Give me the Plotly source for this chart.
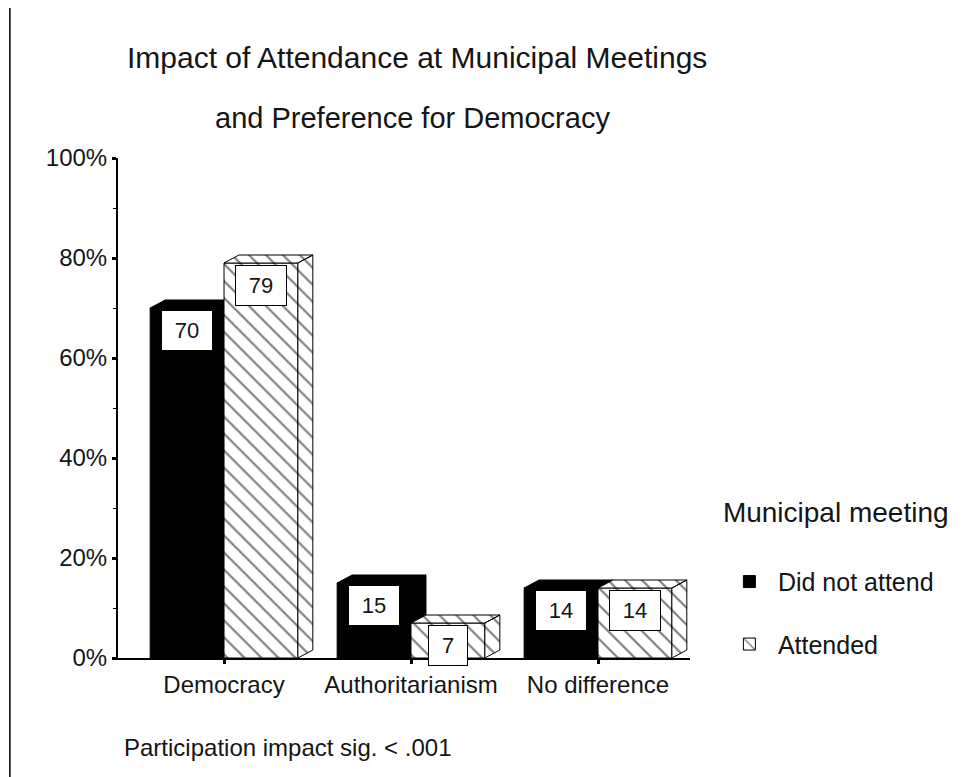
import plotly.graph_objects as go

categories = ["Democracy", "Authoritarianism", "No difference"]
did_not_attend = [70, 15, 14]
attended = [79, 7, 14]
series_names = ["Did not attend", "Attended"]
y_tickvals = [0, 20, 40, 60, 80, 100]
y_ticktext = ["0%", "20%", "40%", "60%", "80%", "100%"]

FONT = "Liberation Sans, Arial, sans-serif"
INK = "#151515"
BAR_W = 0.395          # width of one bar, in category units
DX, DY = 0.08, 1.6     # fake 3d depth (x units, percent)
XR = [-0.567, 2.492]
HATCH = dict(shape="\\", fgcolor="black", bgcolor="white", size=12, solidity=0.18)


def faces(vals, shift):
    # top and right side of each bar, as closed polygons split by None
    xs, ys = [], []
    for i, v in enumerate(vals):
        x0 = i + shift
        x1 = x0 + BAR_W
        xs += [x0, x1, x1 + DX, x0 + DX, x0, None]
        ys += [v, v, v + DY, v + DY, v, None]
        xs += [x1, x1 + DX, x1 + DX, x1, x1, None]
        ys += [0, DY, v + DY, v, 0, None]
    return xs, ys


xpos = list(range(len(categories)))
fig = go.Figure()

# did not attend (solid black), on the back subplot
fx, fy = faces(did_not_attend, -BAR_W)
fig.add_trace(go.Scatter(x=fx, y=fy, fill="toself", fillcolor="black", mode="lines",
                         line=dict(color="black", width=1), showlegend=False, hoverinfo="skip"))
fig.add_trace(go.Bar(x=xpos, y=did_not_attend, width=BAR_W, offset=-BAR_W, name=series_names[0],
                     legendgroup="a", marker=dict(color="black", line=dict(color="black", width=1))))

# attended (hatched), on the overlaying subplot so it sits in front
fx, fy = faces(attended, 0)
fig.add_trace(go.Bar(x=xpos, y=attended, width=BAR_W, offset=0, name=series_names[1],
                     legendgroup="b", xaxis="x2", yaxis="y2",
                     marker=dict(color="white", line=dict(color="black", width=1), pattern=HATCH)))
fig.add_trace(go.Scatter(x=fx, y=fy, fill="toself", fillcolor="white", fillpattern=HATCH,
                         mode="lines", line=dict(color="black", width=1), xaxis="x2", yaxis="y2",
                         showlegend=False, hoverinfo="skip"))

annotations = []
for vals, shift in [(did_not_attend, -BAR_W), (attended, 0)]:
    for i, v in enumerate(vals):
        txt = str(v)
        annotations.append(dict(x=i + shift + BAR_W / 2, y=v, xref="x", yref="y", text=txt,
                                showarrow=False, yanchor="top", yshift=-2,
                                font=dict(family=FONT, size=22, color=INK),
                                bgcolor="white", bordercolor="black", borderwidth=1,
                                width=12 * len(txt) + 24, height=37))

annotations += [
    dict(text="Impact of Attendance at Municipal Meetings", x=0.523, y=1.202, xref="paper",
         yref="paper", xanchor="center", yanchor="middle", showarrow=False,
         font=dict(family=FONT, size=30, color=INK)),
    dict(text="and Preference for Democracy", x=0.514, y=1.08, xref="paper", yref="paper",
         xanchor="center", yanchor="middle", showarrow=False,
         font=dict(family=FONT, size=29, color=INK)),
    dict(text="Participation impact sig. < .001", x=0.007, y=-0.178, xref="paper", yref="paper",
         xanchor="left", yanchor="middle", showarrow=False,
         font=dict(family=FONT, size=24, color=INK)),
]

# the page body adds an 8px margin, so the figure is 8px smaller than the window
fig.update_layout(
    width=966, height=769,
    margin=dict(l=110, r=284, t=150, b=119),
    plot_bgcolor="white", paper_bgcolor="white",
    barmode="overlay",
    font=dict(family=FONT, size=24, color=INK),
    xaxis=dict(range=XR, tickvals=xpos, ticktext=categories, showline=True, linecolor="black",
               linewidth=1.5, ticks="outside", ticklen=4, tickwidth=3, tickcolor="black",
               showgrid=False, zeroline=False, tickfont=dict(size=24)),
    yaxis=dict(range=[0, 100], tickvals=y_tickvals, ticktext=y_ticktext, showline=True,
               linecolor="black", linewidth=2, ticks="outside", ticklen=4, tickwidth=3,
               tickcolor="black", showgrid=False, zeroline=False, tickfont=dict(size=24),
               minor=dict(dtick=10, ticks="outside", ticklen=3, tickwidth=1, tickcolor="black")),
    xaxis2=dict(range=XR, overlaying="x", anchor="y2", visible=False),
    yaxis2=dict(range=[0, 100], overlaying="y", anchor="x2", visible=False),
    legend=dict(title=dict(text="Municipal meeting<br> ", font=dict(size=28)), x=1.054,
                xanchor="left", y=0.344, yanchor="top", tracegroupgap=27, itemwidth=47,
                font=dict(size=25)),
    annotations=annotations,
    shapes=[dict(type="line", xref="paper", yref="paper", x0=-0.189, x1=-0.189, y0=1.3, y1=-0.238,
                 line=dict(color="black", width=1.5))],
)

fig.write_html("out.html")
